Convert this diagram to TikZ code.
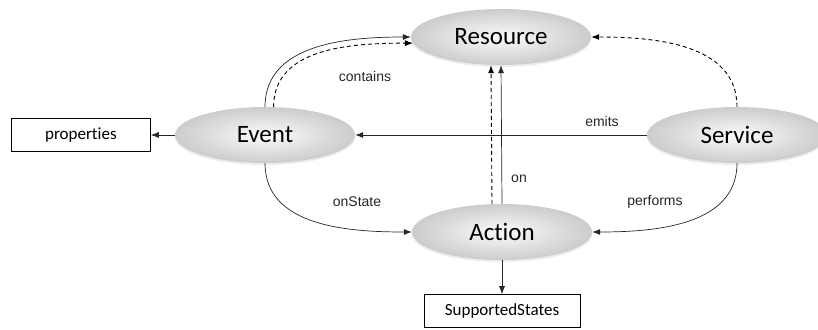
\documentclass[tikz,border=0pt]{standalone}
\usepackage{fontspec}
\setmainfont[Ligatures={NoCommon}]{Carlito}
\newfontfamily\arialfont{Liberation Sans}
\usetikzlibrary{positioning,arrows.meta,shapes.geometric,shadows}

\begin{document}
\begin{tikzpicture}[x=1pt, y=1pt,
    concept/.style={ellipse, minimum width=180pt, minimum height=56pt, inner color=gray!3, outer color=gray!40,
        drop shadow={opacity=0.15, shadow xshift=0pt, shadow yshift=-2pt}, font=\fontsize{25}{28}\selectfont},
    box/.style={rectangle, draw, line width=0.8pt, minimum height=33pt, font=\fontsize{17}{20}\selectfont},
    arrow/.style={line width=0.7pt, draw=black!85, -{Latex[length=8pt,width=6pt]}},
    dasharrow/.style={arrow, line width=0.9pt, draw=black, dash pattern=on 4pt off 3pt},
    lbl/.style={font=\arialfont\fontsize{14}{16}\selectfont, text=black!85}]

    \clip (0,0) rectangle (818,329);

    \node[concept] (res) at (501,292) {Resource};
    \node[concept] (ev) at (265,194) {Event};
    \node[concept] (srv) at (737,194) {Service};
    \node[concept] (act) at (502,97) {Action};
    \node[box, minimum width=139pt, left=24pt of ev] (prop) {properties};
    \node[box, minimum width=156pt, below=34pt of act] (sup) {SupportedStates};

    \draw[arrow] (ev.north) to[out=90, in=180] (res.west);
    \draw[dasharrow] (ev.73) to[out=90, in=180] (res.184);
    \draw[dasharrow] (srv.north) to[out=90, in=0] (res.east);
    \draw[arrow] (srv.west) -- (ev.east);
    \draw[arrow] (act.north) -- (res.south);
    \draw[dasharrow] ([xshift=-10pt]act.north) -- ([xshift=-10pt]res.south);
    \draw[arrow] (ev.south) to[out=-90, in=180] (act.west);
    \draw[arrow] (srv.south) to[out=-90, in=0] (act.east);
    \draw[arrow] (ev) -- (prop);
    \draw[arrow] (act) -- (sup);

    % Labels
    \node[lbl] (contains) at (365,253) {contains};
    \node[lbl] (emits) at (602,208) {emits};
    \node[lbl] (on) at (519,150) {on};
    \node[lbl] (onstate) at (357,127) {onState};
    \node[lbl] (performs) at (655,127) {performs};

\end{tikzpicture}
\end{document}
